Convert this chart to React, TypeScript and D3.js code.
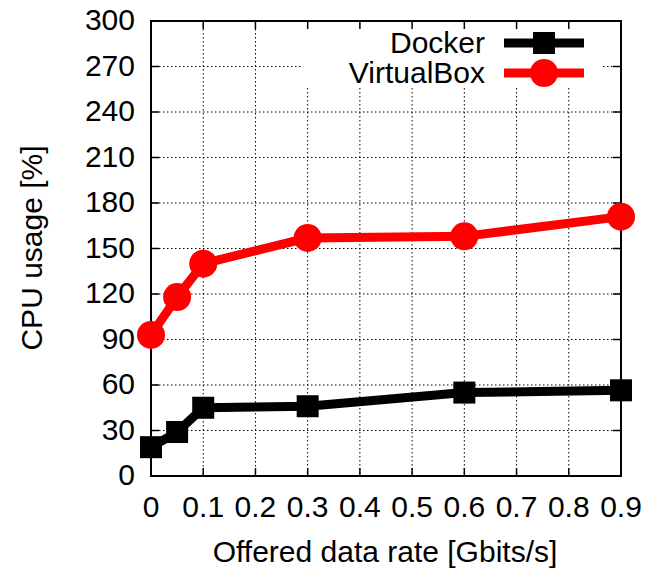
import { useEffect, useRef } from 'react';
import * as d3 from 'd3';

const rates = [0, 0.05, 0.1, 0.3, 0.6, 0.9];
const docker = [19, 29, 45, 46, 55, 56.5];
const virtualbox = [93, 118, 140, 157, 158, 171];
const xTicks = [0, 0.1, 0.2, 0.3, 0.4, 0.5, 0.6, 0.7, 0.8, 0.9];
const yTicks = [0, 30, 60, 90, 120, 150, 180, 210, 240, 270, 300];

const W = 647, H = 570;
const M = { left: 151, right: 621, top: 21, bottom: 476 };
const FONT = '"Liberation Sans", Arial, sans-serif';

export default function App() {
  const ref = useRef<SVGSVGElement>(null);

  useEffect(() => {
    const svg = d3.select(ref.current);
    svg.selectAll('*').remove();

    const x = d3.scaleLinear().domain([0, 0.9]).range([M.left, M.right]);
    const y = d3.scaleLinear().domain([0, 300]).range([M.bottom, M.top]);

    // area kept clear behind the key
    const leg = { x0: 303, x1: 603, y0: M.top, y1: 88 };

    // grid
    const grid = svg.append('g').attr('stroke', '#000').attr('stroke-width', 1).attr('stroke-dasharray', '1.5,2.5');
    yTicks.slice(1, -1).forEach(t => {
      const yy = y(t);
      if (yy > leg.y0 && yy < leg.y1) {
        grid.append('line').attr('x1', M.left).attr('x2', leg.x0).attr('y1', yy).attr('y2', yy);
        grid.append('line').attr('x1', leg.x1).attr('x2', M.right).attr('y1', yy).attr('y2', yy);
      } else {
        grid.append('line').attr('x1', M.left).attr('x2', M.right).attr('y1', yy).attr('y2', yy);
      }
    });
    xTicks.slice(1, -1).forEach(t => {
      const xx = x(t);
      const top = xx > leg.x0 && xx < leg.x1 ? leg.y1 : M.top;
      grid.append('line').attr('x1', xx).attr('x2', xx).attr('y1', top).attr('y2', M.bottom);
    });

    // ticks (mirrored)
    const ticks = svg.append('g').attr('stroke', '#000').attr('stroke-width', 1.5);
    xTicks.forEach(t => {
      const xx = x(t);
      ticks.append('line').attr('x1', xx).attr('x2', xx).attr('y1', M.bottom).attr('y2', M.bottom - 8);
      ticks.append('line').attr('x1', xx).attr('x2', xx).attr('y1', M.top).attr('y2', M.top + 8);
    });
    yTicks.forEach(t => {
      const yy = y(t);
      ticks.append('line').attr('x1', M.left).attr('x2', M.left + 8).attr('y1', yy).attr('y2', yy);
      ticks.append('line').attr('x1', M.right).attr('x2', M.right - 8).attr('y1', yy).attr('y2', yy);
    });

    // border
    svg.append('rect')
      .attr('x', M.left).attr('y', M.top)
      .attr('width', M.right - M.left).attr('height', M.bottom - M.top)
      .attr('fill', 'none').attr('stroke', '#000').attr('stroke-width', 2);

    // tick labels
    svg.append('g').selectAll('text').data(xTicks).join('text')
      .attr('x', d => x(d)).attr('y', 517)
      .attr('text-anchor', 'middle')
      .attr('font-family', FONT).attr('font-size', 30)
      .text(d => String(d));
    svg.append('g').selectAll('text').data(yTicks).join('text')
      .attr('x', 135).attr('y', d => y(d) + 9)
      .attr('text-anchor', 'end')
      .attr('font-family', FONT).attr('font-size', 30)
      .text(d => String(d));

    // axis titles
    svg.append('text')
      .attr('x', 385).attr('y', 562)
      .attr('text-anchor', 'middle')
      .attr('font-family', FONT).attr('font-size', 30)
      .text('Offered data rate [Gbits/s]');
    svg.append('text')
      .attr('transform', `translate(42,248) rotate(-90)`)
      .attr('text-anchor', 'middle')
      .attr('font-family', FONT).attr('font-size', 30)
      .text('CPU usage [%]');

    const line = d3.line<number>().x((_, i) => x(rates[i])).y(d => y(d));

    // Docker
    svg.append('path').datum(docker).attr('d', line)
      .attr('fill', 'none').attr('stroke', '#000').attr('stroke-width', 9).attr('stroke-linejoin', 'round');
    svg.append('g').selectAll('rect').data(docker).join('rect')
      .attr('x', (_, i) => x(rates[i]) - 11).attr('y', d => y(d) - 11)
      .attr('width', 22).attr('height', 22).attr('fill', '#000');

    // VirtualBox
    svg.append('path').datum(virtualbox).attr('d', line)
      .attr('fill', 'none').attr('stroke', '#ff0000').attr('stroke-width', 9).attr('stroke-linejoin', 'round');
    svg.append('g').selectAll('circle').data(virtualbox).join('circle')
      .attr('cx', (_, i) => x(rates[i])).attr('cy', d => y(d))
      .attr('r', 14).attr('fill', '#ff0000');

    // key
    const lg = svg.append('g').attr('font-family', FONT).attr('font-size', 30);
    const entries = [
      { label: 'Docker', color: '#000', marker: 'square', yy: 43, base: 53 },
      { label: 'VirtualBox', color: '#ff0000', marker: 'circle', yy: 73, base: 83 },
    ];
    entries.forEach(e => {
      lg.append('text').attr('x', 485).attr('y', e.base).attr('text-anchor', 'end').text(e.label);
      lg.append('line').attr('x1', 504).attr('x2', 584).attr('y1', e.yy).attr('y2', e.yy)
        .attr('stroke', e.color).attr('stroke-width', 9);
      if (e.marker === 'square') {
        lg.append('rect').attr('x', 544 - 11).attr('y', e.yy - 11).attr('width', 22).attr('height', 22).attr('fill', e.color);
      } else {
        lg.append('circle').attr('cx', 544).attr('cy', e.yy).attr('r', 14).attr('fill', e.color);
      }
    });
  }, []);

  return (
    <div style={{ position: 'absolute', left: 0, top: 0 }}>
      <svg ref={ref} width={W} height={H} style={{ display: 'block', background: '#fff' }} />
    </div>
  );
}
